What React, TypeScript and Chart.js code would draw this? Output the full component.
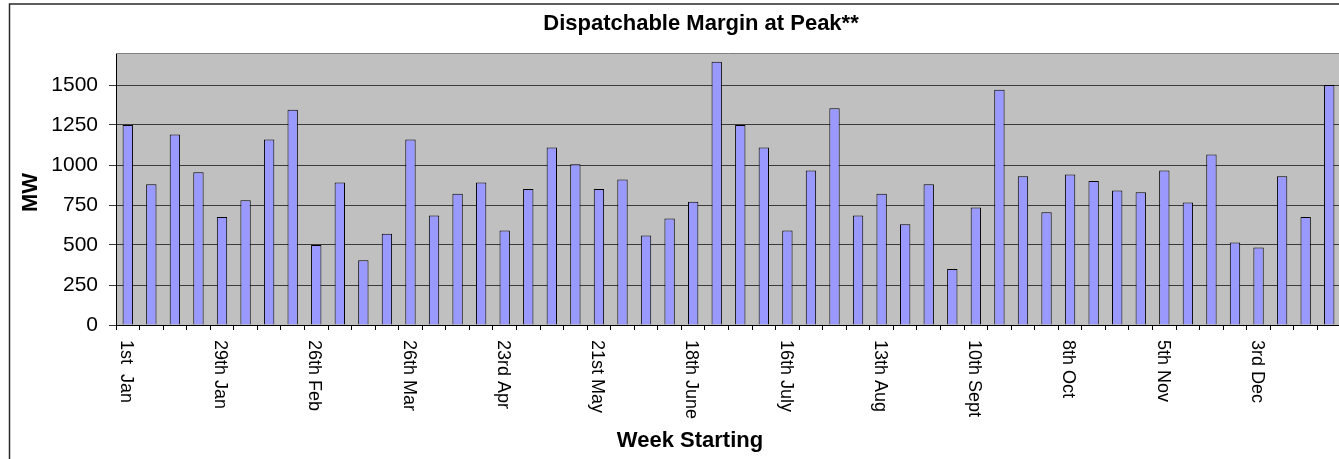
import { useEffect, useRef } from 'react';
import { Chart, registerables } from 'chart.js';

Chart.register(...registerables);

const weekLabels = [
  '1st  Jan', '8th Jan', '15th Jan', '22nd Jan', '29th Jan',
  '5th Feb', '12th Feb', '19th Feb', '26th Feb',
  '5th Mar', '12th Mar', '19th Mar', '26th Mar',
  '2nd Apr', '9th Apr', '16th Apr', '23rd Apr', '30th Apr',
  '7th May', '14th May', '21st May', '28th May',
  '4th June', '11th June', '18th June', '25th June',
  '2nd July', '9th July', '16th July', '23rd July', '30th July',
  '6th Aug', '13th Aug', '20th Aug', '27th Aug',
  '3rd Sept', '10th Sept', '17th Sept', '24th Sept',
  '1st Oct', '8th Oct', '15th Oct', '22nd Oct', '29th Oct',
  '5th Nov', '12th Nov', '19th Nov', '26th Nov',
  '3rd Dec', '10th Dec', '17th Dec', '24th Dec',
];

const marginMW = [
  1250, 880, 1190, 955, 675, 780, 1160, 1345, 500, 890, 405, 570, 1160,
  685, 820, 890, 590, 850, 1110, 1005, 850, 910, 560, 665, 770, 1645,
  1250, 1110, 590, 965, 1355, 685, 820, 630, 880, 350, 735, 1470, 930,
  705, 940, 900, 840, 830, 965, 765, 1065, 515, 485, 930, 675, 1500,
];

const labelEvery = 4;
const yMin = 0;
const yMax = 1700;
const yTickValues = [0, 250, 500, 750, 1000, 1250, 1500];

const chartTitle = 'Dispatchable Margin at Peak**';
const yTitle = 'MW';
const xTitle = 'Week Starting';

const FONT = "'Liberation Sans', Arial, Helvetica, sans-serif";
const W = 1341;
const H = 459;

export default function App() {
  const ref = useRef<HTMLCanvasElement>(null);

  useEffect(() => {
    const canvas = ref.current;
    if (!canvas) return;

    const deco = {
      id: 'deco',
      beforeDraw(chart: any) {
        const { ctx, chartArea } = chart;
        ctx.save();
        ctx.fillStyle = '#ffffff';
        ctx.fillRect(0, 0, chart.width, chart.height);
        ctx.fillStyle = '#C0C0C0';
        ctx.fillRect(chartArea.left, chartArea.top, chartArea.right - chartArea.left, chartArea.bottom - chartArea.top);
        ctx.strokeStyle = '#2a2a2a';
        ctx.lineWidth = 1.5;
        ctx.beginPath();
        ctx.moveTo(9.5, chart.height);
        ctx.lineTo(9.5, 4);
        ctx.lineTo(chart.width, 4);
        ctx.stroke();
        ctx.restore();
      },
      afterDraw(chart: any) {
        const { ctx, chartArea } = chart;
        const xs = chart.scales.x;
        ctx.save();
        ctx.strokeStyle = '#808080';
        ctx.lineWidth = 1;
        ctx.beginPath();
        ctx.moveTo(chartArea.left, Math.round(chartArea.top) + 0.5);
        ctx.lineTo(chartArea.right, Math.round(chartArea.top) + 0.5);
        ctx.stroke();

        ctx.fillStyle = '#000';
        ctx.font = `bold 22px ${FONT}`;
        ctx.textAlign = 'center';
        ctx.textBaseline = 'alphabetic';
        ctx.fillText(chartTitle, 701, 30);

        ctx.fillText(xTitle, 690, 447);

        ctx.save();
        ctx.translate(36.5, 192.5);
        ctx.rotate(-Math.PI / 2);
        ctx.textAlign = 'center';
        ctx.fillText(yTitle, 0, 0);
        ctx.restore();

        ctx.font = `18px ${FONT}`;
        ctx.textAlign = 'left';
        ctx.textBaseline = 'alphabetic';
        weekLabels.forEach((lab, i) => {
          if (i % labelEvery !== 0) return;
          const x = xs.getPixelForValue(i);
          ctx.save();
          ctx.translate(x - 6.8, 340);
          ctx.rotate(Math.PI / 2);
          ctx.fillText(lab, 0, 0);
          ctx.restore();
        });
        ctx.restore();
      },
    };

    const chart = new Chart(canvas, {
      type: 'bar',
      data: {
        labels: weekLabels,
        datasets: [
          {
            data: marginMW,
            backgroundColor: '#9999FF',
            borderColor: '#000000',
            borderWidth: 1,
            barPercentage: 0.44,
            categoryPercentage: 1,
          },
        ],
      },
      options: {
        responsive: false,
        animation: false,
        devicePixelRatio: 1,
        layout: { padding: { top: 53, left: 0, right: 0, bottom: 0 } },
        plugins: {
          legend: { display: false },
          tooltip: { enabled: false },
          title: { display: false },
        },
        scales: {
          x: {
            type: 'category',
            offset: true,
            grid: {
              offset: true,
              drawOnChartArea: false,
              drawTicks: true,
              tickLength: 5,
              color: '#000000',
            },
            border: { display: true, color: '#000000', width: 1 },
            ticks: { display: false, autoSkip: false },
            afterFit: (scale: any) => {
              scale.height = 134;
            },
          },
          y: {
            min: yMin,
            max: yMax,
            ticks: {
              padding: 11,
              color: '#000000',
              font: { family: FONT, size: 21 },
              autoSkip: false,
              callback: (v: any) => String(v),
            },
            grid: {
              color: '#3a3a3a',
              lineWidth: 1,
              drawTicks: true,
              tickLength: 7,
            },
            border: { display: true, color: '#000000', width: 1 },
            afterBuildTicks: (scale: any) => {
              scale.ticks = yTickValues.map((v) => ({ value: v }));
            },
            afterFit: (scale: any) => {
              scale.width = 116;
            },
          },
        },
      },
      plugins: [deco],
    } as any);

    return () => chart.destroy();
  }, []);

  return (
    <div style={{ position: 'fixed', left: 0, top: 0, width: 1339, height: 459, overflow: 'hidden', background: '#fff' }}>
      <canvas ref={ref} width={W} height={H} style={{ display: 'block', width: W, height: H }} />
    </div>
  );
}
